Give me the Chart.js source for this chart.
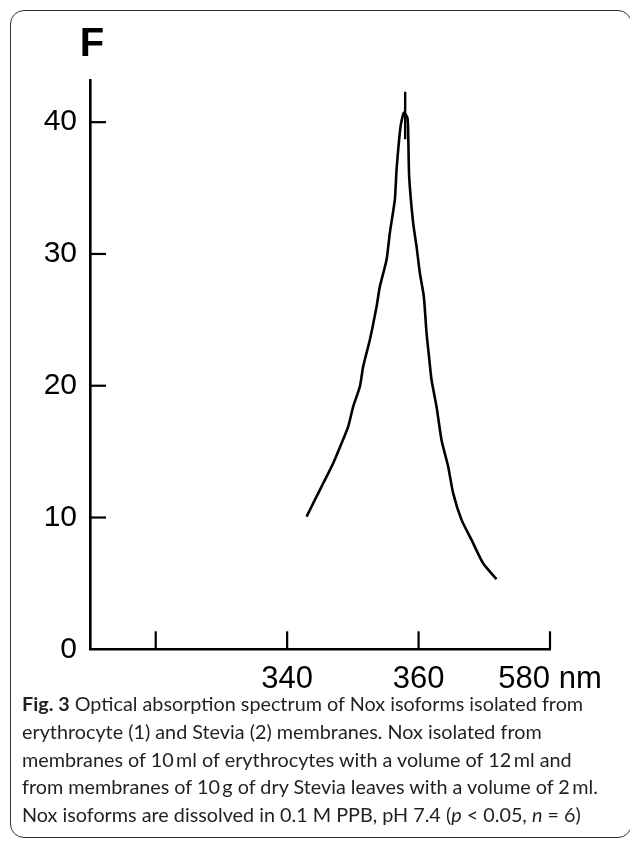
<!DOCTYPE html>
<html>
<head>
<meta charset="utf-8">
<script src="https://cdn.jsdelivr.net/npm/chart.js@4.4.0/dist/chart.umd.min.js"></script>
<style>
  html, body { margin: 0; padding: 0; background: #fff; }
  #page { position: relative; width: 630px; height: 841px; overflow: hidden; }
  #frame { position: absolute; left: 10px; top: 10px; width: 622px; height: 828px; border: 1.5px solid #333; border-radius: 14px; box-sizing: border-box; }
  #spectrum { position: absolute; left: 0; top: 0; }
  #caption { position: absolute; left: 22px; top: 690px; font-family: Lato, "Open Sans", sans-serif; font-size: 19.8px; line-height: 27.8px; color: #231f20; white-space: nowrap; }
</style>
</head>
<body>
<div id="page">
  <div id="frame"></div>
  <canvas id="spectrum" width="630" height="700"></canvas>
  <div id="caption">
    <b>Fig. 3</b> Optical absorption spectrum of Nox isoforms isolated from<br>
    erythrocyte (1) and Stevia (2) membranes. Nox isolated from<br>
    membranes of 10&thinsp;ml of erythrocytes with a volume of 12&thinsp;ml and<br>
    from membranes of 10&thinsp;g of dry Stevia leaves with a volume of 2&thinsp;ml.<br>
    Nox isoforms are dissolved in 0.1 M PPB, pH 7.4 (<i>p</i> &lt; 0.05, <i>n</i> = 6)
  </div>
</div>
<script>
/* spectrum (wavelength, F) */
const curveNm = [342.96, 344.22, 345.49, 347.01, 348.28, 349.29, 350.05, 351.07, 351.57, 352.59,
                 353.61, 354.11, 355.13, 355.63, 356.39, 356.65, 357.26, 357.76, 358.29, 358.41,
                 358.57, 359.17, 359.69, 360.19, 360.80, 361.21, 361.61, 361.97, 362.73, 363.49,
                 364.50, 365.26, 366.54, 368.06, 369.82, 371.86];
const curveF = [10.07, 11.34, 12.60, 14.12, 15.64, 16.90, 18.42, 19.94, 21.46, 23.49,
                26.01, 27.53, 29.56, 31.61, 34.12, 36.39, 39.68, 40.72, 40.34, 39.43,
                35.88, 32.37, 30.57, 28.57, 26.77, 24.02, 22.12, 20.45, 18.42, 15.89,
                13.87, 11.85, 9.82, 8.30, 6.53, 5.32];
// the little vertical spike on top of the peak
const spikeNm = [357.96, 357.96];
const spikeF = [42.3, 38.7];

const yTicks = [0, 10, 20, 30, 40];
const xTicks = [320, 340, 360, 380];
const xTickLabels = ['', '340', '360', '580 nm'];

const axisFont = '"Liberation Sans", Arial, sans-serif';

/* inward tick marks + the "F" axis title */
const axisMarks = {
  id: 'axisMarks',
  afterDraw(chart) {
    const { ctx, scales: { x, y } } = chart;
    ctx.save();
    ctx.strokeStyle = '#000';
    ctx.lineWidth = 2.2;
    yTicks.forEach(v => {
      if (v === 0) return;
      const py = y.getPixelForValue(v);
      ctx.beginPath();
      ctx.moveTo(x.left, py);
      ctx.lineTo(x.left + 16, py);
      ctx.stroke();
    });
    xTicks.forEach(v => {
      const px = x.getPixelForValue(v);
      ctx.beginPath();
      ctx.moveTo(px, y.bottom);
      ctx.lineTo(px, y.bottom - 18);
      ctx.stroke();
    });
    ctx.fillStyle = '#000';
    ctx.font = 'bold 40px ' + axisFont;
    ctx.textAlign = 'center';
    ctx.textBaseline = 'alphabetic';
    ctx.fillText('F', x.left + 2, 56);
    ctx.restore();
  }
};

const ctx = document.getElementById('spectrum');
new Chart(ctx, {
  type: 'line',
  data: {
    datasets: [{
      data: curveNm.map((nm, i) => ({ x: nm, y: curveF[i] })),
      borderColor: '#000',
      borderWidth: 2.6,
      pointRadius: 0,
      tension: 0.2,
      fill: false
    }, {
      data: spikeNm.map((nm, i) => ({ x: nm, y: spikeF[i] })),
      borderColor: '#000',
      borderWidth: 2.4,
      pointRadius: 0,
      fill: false
    }]
  },
  options: {
    responsive: false,
    animation: false,
    layout: { padding: { left: 0, right: 80, top: 80, bottom: 0 } },
    plugins: { legend: { display: false }, tooltip: { enabled: false } },
    scales: {
      x: {
        type: 'linear',
        min: 310,
        max: 380,
        afterBuildTicks: s => { s.ticks = xTicks.map(v => ({ value: v })); },
        afterFit: s => { s.height = 50.7; },
        grid: { drawOnChartArea: false, drawTicks: false },
        border: { color: '#000', width: 2.6 },
        ticks: {
          color: '#000',
          padding: 12,
          maxRotation: 0,
          autoSkip: false,
          font: { family: axisFont, size: 31 },
          callback: (v, i) => xTickLabels[i]
        }
      },
      y: {
        min: 0,
        max: 43.2,
        afterBuildTicks: s => { s.ticks = yTicks.map(v => ({ value: v })); },
        afterFit: s => { s.width = 90; },
        grid: { drawOnChartArea: false, drawTicks: false },
        border: { color: '#000', width: 2.6 },
        ticks: {
          color: '#000',
          padding: 13,
          font: { family: axisFont, size: 30 }
        }
      }
    }
  },
  plugins: [axisMarks]
});
</script>
</body>
</html>
